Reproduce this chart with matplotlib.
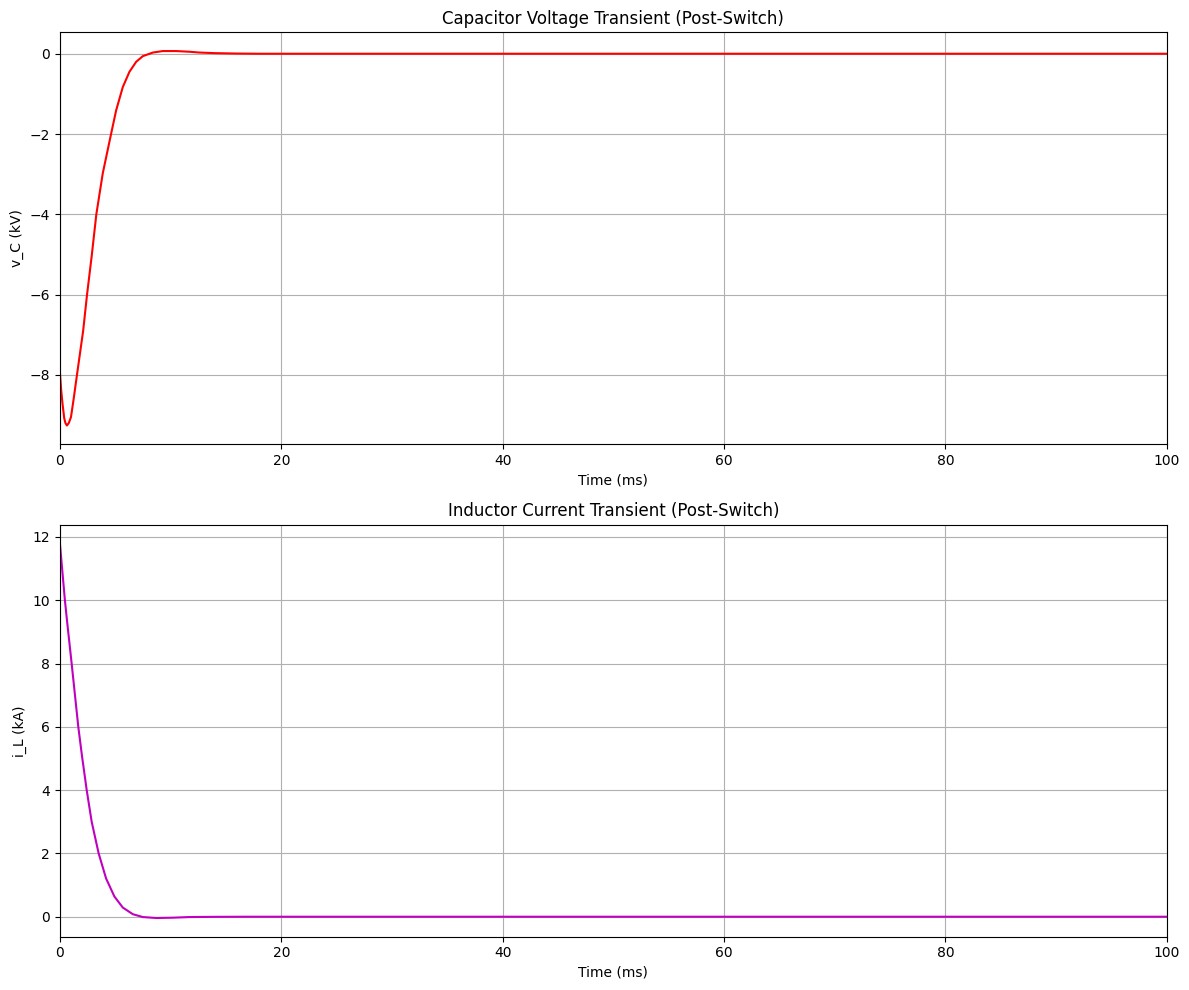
import matplotlib
matplotlib.use("Agg")
import matplotlib.pyplot as plt

# values (time in ms)
t_v = [0, 0.12, 0.24, 0.39, 0.5, 0.63, 0.8, 1.0, 1.24, 1.54, 2.1, 2.45, 2.87, 3.29,
       3.87, 4.62, 5.08, 5.68, 6.28, 6.89, 7.49, 8.4, 9.3, 10.5, 11.7, 12.6, 14.0,
       16.0, 18.0, 20, 40, 60, 80, 100]
v_c = [-7.94, -8.4, -8.73, -9.08, -9.2, -9.26, -9.2, -9.05, -8.6, -8.0, -6.9, -6.0,
       -5.04, -4.0, -2.98, -2.0, -1.41, -0.83, -0.45, -0.20, -0.06, 0.03, 0.067, 0.067,
       0.05, 0.03, 0.015, 0.005, 0.0, 0.0, 0.0, 0.0, 0.0, 0.0]

t_i = [0, 0.45, 0.66, 1.06, 1.66, 1.99, 2.42, 2.87, 3.5, 4.17, 4.92, 5.68, 6.59,
       7.49, 8.7, 10.2, 11.7, 14.0, 17.0, 20, 40, 60, 80, 100]
i_l = [11.79, 10.0, 9.29, 8.0, 6.0, 5.09, 4.0, 3.0, 2.0, 1.21, 0.64, 0.29, 0.08,
       -0.01, -0.04, -0.03, -0.01, -0.003, 0.0, 0.0, 0.0, 0.0, 0.0, 0.0]

fig, (ax1, ax2) = plt.subplots(2, 1, figsize=(12, 10))

ax1.plot(t_v, v_c, color='r')
ax1.set_title('Capacitor Voltage Transient (Post-Switch)')
ax1.set_xlabel('Time (ms)')
ax1.set_ylabel('v_C (kV)')
ax1.set_xlim(0, 100)
ax1.grid()

ax2.plot(t_i, i_l, color='m')
ax2.set_title('Inductor Current Transient (Post-Switch)')
ax2.set_xlabel('Time (ms)')
ax2.set_ylabel('i_L (kA)')
ax2.set_xlim(0, 100)
ax2.grid()

plt.tight_layout()
plt.savefig('out.png', dpi=100, bbox_inches='tight')
